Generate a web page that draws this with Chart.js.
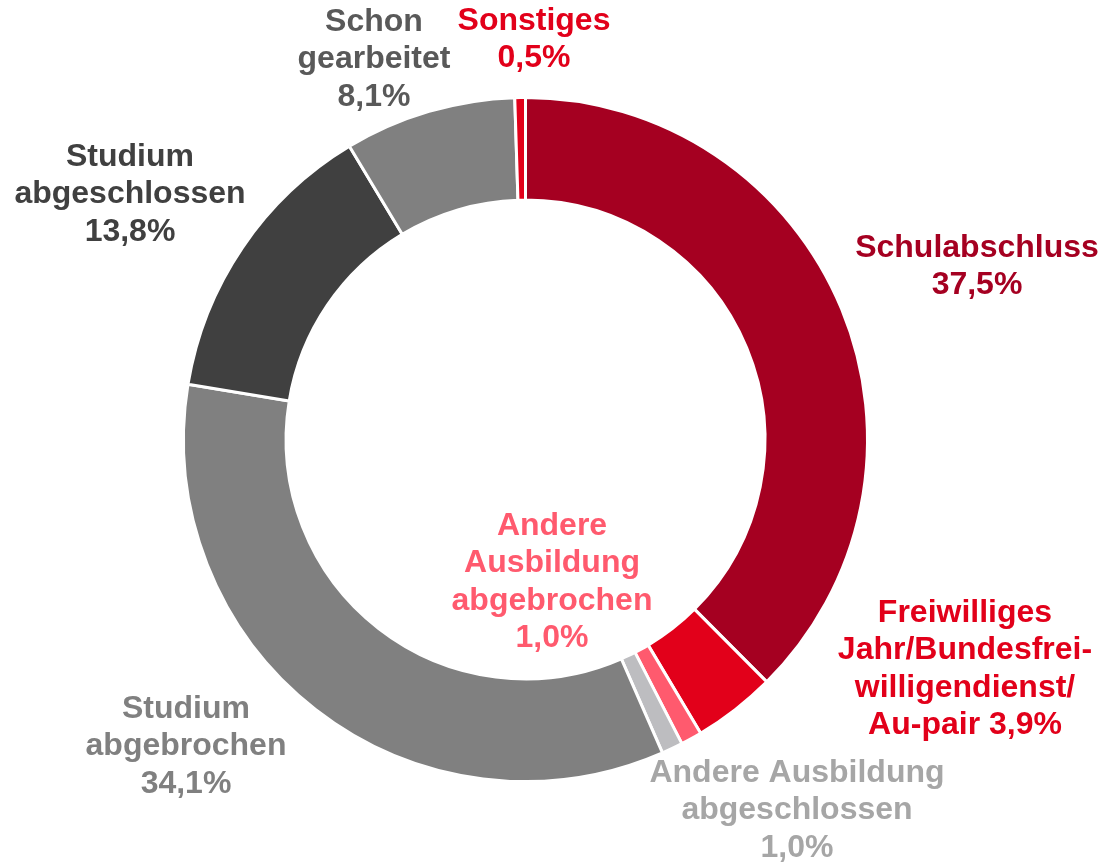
<!DOCTYPE html>
<html>
<head>
<meta charset="utf-8">
<script src="https://cdn.jsdelivr.net/npm/chart.js@4"></script>
<style>
  body { margin: 0; background: #fff; }
  #wrap { width: 1104px; height: 864px; }
</style>
</head>
<body>
<div id="wrap"><canvas id="donut" width="1104" height="864"></canvas></div>
<script>
// categories and shares (percent), clockwise from 12 o'clock
var categories = [
    'Schulabschluss',
    'Freiwilliges Jahr/Bundesfreiwilligendienst/Au-pair',
    'Andere Ausbildung abgebrochen',
    'Andere Ausbildung abgeschlossen',
    'Studium abgebrochen',
    'Studium abgeschlossen',
    'Schon gearbeitet',
    'Sonstiges'
];
var shares = [37.5, 3.9, 1.0, 1.0, 34.1, 13.8, 8.1, 0.5];
var sliceColors = ['#A50021', '#E2001A', '#FF5A6E', '#BDBDC0', '#808080', '#404040', '#808080', '#E2001A'];
var labelColors = ['#A50021', '#E2001A', '#FF5A6E', '#A6A6A6', '#808080', '#404040', '#595959', '#E2001A'];

// label text lines, as broken in the original
var labelLines = [
    ['Schulabschluss', '37,5%'],
    ['Freiwilliges', 'Jahr/Bundesfrei-', 'willigendienst/', 'Au-pair 3,9%'],
    ['Andere', 'Ausbildung', 'abgebrochen', '1,0%'],
    ['Andere Ausbildung', 'abgeschlossen', '1,0%'],
    ['Studium', 'abgebrochen', '34,1%'],
    ['Studium', 'abgeschlossen', '13,8%'],
    ['Schon', 'gearbeitet', '8,1%'],
    ['Sonstiges', '0,5%']
];
// centre of first text line for each label
var labelAnchors = [[977, 248], [965, 613], [552, 526], [797, 773], [186, 709], [130, 157], [374, 22], [534, 21]];

var labelPlugin = {
    id: 'outerLabels',
    afterDraw: function(chart) {
        var ctx = chart.ctx;
        ctx.save();
        ctx.font = 'bold 32px "Liberation Sans", Arial, sans-serif';
        ctx.textAlign = 'center';
        ctx.textBaseline = 'middle';
        for (var i = 0; i < labelLines.length; i++) {
            ctx.fillStyle = labelColors[i];
            for (var j = 0; j < labelLines[i].length; j++) {
                ctx.fillText(labelLines[i][j], labelAnchors[i][0], labelAnchors[i][1] + j * 37.5);
            }
        }
        ctx.restore();
    }
};

var ctx = document.getElementById('donut').getContext('2d');
var donutChart = new Chart(ctx, {
    type: 'doughnut',
    data: {
        labels: categories,
        datasets: [{
            data: shares,
            backgroundColor: sliceColors,
            borderColor: '#ffffff',
            borderWidth: 3
        }]
    },
    options: {
        responsive: false,
        animation: false,
        cutout: '70%',
        layout: {
            padding: { left: 182, right: 235, top: 96, bottom: 81 }
        },
        plugins: {
            legend: { display: false },
            tooltip: { enabled: false }
        }
    },
    plugins: [labelPlugin]
});
</script>
</body>
</html>
